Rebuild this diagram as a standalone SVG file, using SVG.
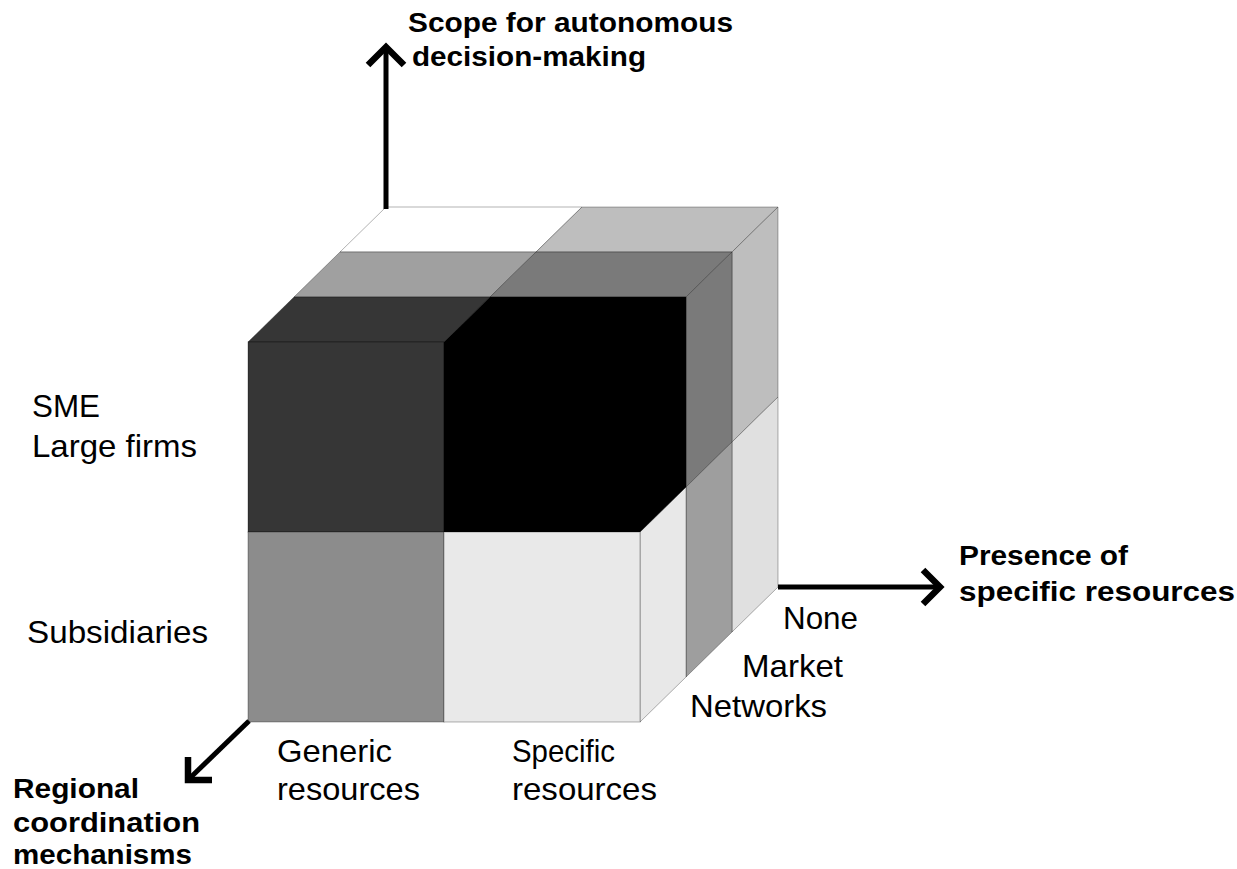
<svg xmlns="http://www.w3.org/2000/svg" width="1237" height="869" viewBox="0 0 1237 869">
<style>
.face{stroke:#000;stroke-opacity:0.3;stroke-width:1;stroke-linejoin:miter}
.lbl{font-family:"Liberation Sans",Arial,Helvetica,sans-serif;font-size:32px;fill:#000}
.ttl{font-family:"Liberation Sans",Arial,Helvetica,sans-serif;font-size:27px;font-weight:bold;fill:#000}
.axis{fill:none;stroke:#000;stroke-width:5}
.head{fill:none;stroke:#000;stroke-width:6.5;stroke-linecap:butt;stroke-linejoin:miter}
</style>
<rect width="1237" height="869" fill="#fff"/>
<g id="cube">
  <g id="top-faces">
    <polygon class="face" fill="#ffffff" points="340,252 536,252 582,207 386,207"/>
    <polygon class="face" fill="#bebebe" points="536,252 732,252 778,207 582,207"/>
    <polygon class="face" fill="#a0a0a0" points="294,297 490,297 536,252 340,252"/>
    <polygon class="face" fill="#7a7a7a" points="490,297 686,297 732,252 536,252"/>
    <polygon class="face" fill="#363636" points="248,342 444,342 490,297 294,297"/>
  </g>
  <g id="side-faces">
    <polygon class="face" fill="#bebebe" points="732,252 778,207 778,397 732,442"/>
    <polygon class="face" fill="#e0e0e0" points="732,442 778,397 778,587 732,632"/>
    <polygon class="face" fill="#7a7a7a" points="686,297 732,252 732,442 686,487"/>
    <polygon class="face" fill="#9e9e9e" points="686,487 732,442 732,632 686,677"/>
    <polygon class="face" fill="#e8e8e8" points="640,532 686,487 686,677 640,722"/>
  </g>
  <g id="front-faces">
    <rect id="sme-generic" class="face" fill="#363636" x="248" y="342" width="196" height="190"/>
    <polygon id="sme-specific" class="face" fill="#000000" points="444,342 490,297 686,297 686,487 640,532 444,532"/>
    <rect id="subsidiaries-generic" class="face" fill="#8c8c8c" x="248" y="532" width="196" height="190"/>
    <rect id="subsidiaries-specific" class="face" fill="#e9e9e9" x="444" y="532" width="196" height="190"/>
  </g>
</g>
<g id="connectors">
  <g id="axis-vertical">
    <line class="axis" x1="386" y1="209" x2="386" y2="50"/>
    <polyline class="head" points="368,65 386,47 404,65"/>
  </g>
  <g id="axis-horizontal">
    <line class="axis" x1="778" y1="587" x2="938" y2="587"/>
    <polyline class="head" points="923,570 940,587 923,604"/>
  </g>
  <g id="axis-depth">
    <line class="axis" x1="249" y1="721" x2="191" y2="777"/>
    <polyline class="head" points="188,757 188,780 212,780"/>
  </g>
</g>
<g id="axis-titles">
  <text class="ttl" x="408" y="32" textLength="325" lengthAdjust="spacingAndGlyphs">Scope for autonomous</text>
  <text class="ttl" x="412" y="66" textLength="234" lengthAdjust="spacingAndGlyphs">decision-making</text>
  <text class="ttl" x="959" y="565" textLength="169" lengthAdjust="spacingAndGlyphs">Presence of</text>
  <text class="ttl" x="959" y="601" textLength="276" lengthAdjust="spacingAndGlyphs">specific resources</text>
  <text class="ttl" x="13" y="798" textLength="126" lengthAdjust="spacingAndGlyphs">Regional</text>
  <text class="ttl" x="13" y="832" textLength="187" lengthAdjust="spacingAndGlyphs">coordination</text>
  <text class="ttl" x="13" y="864" textLength="179" lengthAdjust="spacingAndGlyphs">mechanisms</text>
</g>
<g id="labels">
  <text class="lbl" x="32" y="417" textLength="68" lengthAdjust="spacingAndGlyphs">SME</text>
  <text class="lbl" x="32" y="457" textLength="165" lengthAdjust="spacingAndGlyphs">Large firms</text>
  <text class="lbl" x="27" y="643" textLength="181" lengthAdjust="spacingAndGlyphs">Subsidiaries</text>
  <text class="lbl" x="277" y="762" textLength="115" lengthAdjust="spacingAndGlyphs">Generic</text>
  <text class="lbl" x="277" y="800" textLength="143" lengthAdjust="spacingAndGlyphs">resources</text>
  <text class="lbl" x="512" y="762" textLength="103" lengthAdjust="spacingAndGlyphs">Specific</text>
  <text class="lbl" x="512" y="800" textLength="145" lengthAdjust="spacingAndGlyphs">resources</text>
  <text class="lbl" x="783" y="629" textLength="75" lengthAdjust="spacingAndGlyphs">None</text>
  <text class="lbl" x="742" y="677" textLength="101" lengthAdjust="spacingAndGlyphs">Market</text>
  <text class="lbl" x="690" y="717" textLength="137" lengthAdjust="spacingAndGlyphs">Networks</text>
</g>
</svg>
